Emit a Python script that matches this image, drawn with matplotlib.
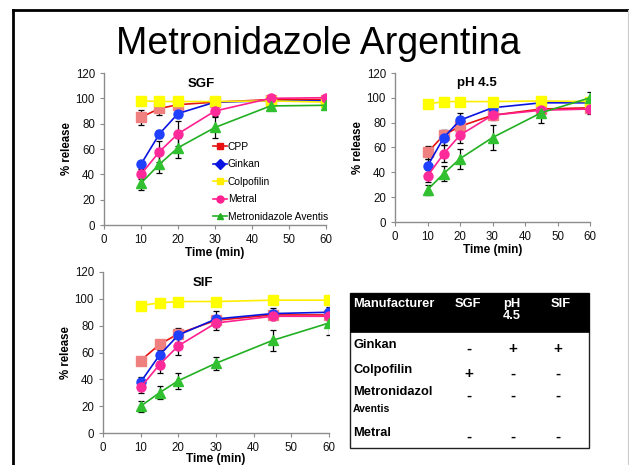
import numpy as np
import matplotlib
matplotlib.use("Agg")
import matplotlib.pyplot as plt
from matplotlib.lines import Line2D
from matplotlib.patches import Rectangle

plt.rcParams["font.family"] = ["Liberation Sans", "DejaVu Sans"]

times = [10, 15, 20, 30, 45, 60]
names = ["CPP", "Ginkan", "Colpofilin", "Metral", "Metronidazole Aventis"]
colors = ["#e81010", "#0a14e0", "#ffee00", "#ff1f8e", "#22b022"]
markers = ["s", "o", "s", "o", "^"]
face_colors = ["#f08080", "#2040ff", "#ffff00", "#ff2a9a", "#30c030"]

# % release per medium, series order as in names
sgf = [
    [85, 92, 95, 97, 99, 99],
    [48, 72, 88, 97, 98, 98],
    [98, 97.5, 97.5, 97.5, 98, 97],
    [40, 58, 72, 90, 100, 100.5],
    [33, 48, 61, 77, 94, 94.5],
]
sgf_err = [
    [6, 5, 2, 1, 2, 1],
    [2, 3, 3, 1, 3, 1],
    [1, 1, 1, 1, 1, 1],
    [4, 8, 10, 4, 3, 1],
    [5, 7, 8, 8, 2, 1],
]
ph45 = [
    [56, 70, 77, 86, 91, 92],
    [45, 68, 82, 92, 96, 96],
    [95, 97, 97, 97, 97.5, 97],
    [37, 55, 70, 86, 90, 91],
    [26, 39, 51, 68, 88, 100],
]
ph45_err = [
    [5, 4, 3, 2, 2, 2],
    [6, 6, 6, 3, 2, 2],
    [1, 1, 1, 1, 1, 1],
    [5, 7, 6, 4, 2, 4],
    [4, 6, 8, 10, 8, 5],
]
sif = [
    [54, 66, 74, 84, 88, 88],
    [38, 58, 73, 85, 89, 90],
    [95, 97, 98, 98, 99, 99],
    [34, 51, 65, 82, 87, 87],
    [20, 30, 39, 52, 69, 82],
]
sif_err = [
    [2, 3, 3, 2, 2, 2],
    [4, 4, 5, 6, 4, 4],
    [1, 1, 1, 1, 1, 1],
    [4, 6, 7, 5, 3, 3],
    [4, 5, 6, 5, 8, 9],
]

table_cols = ["Manufacturer", "SGF", "pH\n4.5", "SIF"]
table_rows = ["Ginkan", "Colpofilin", "Metronidazol", "Metral"]
table_marks = [
    ["-", "+", "+"],
    ["+", "-", "-"],
    ["-", "-", "-"],
    ["-", "-", "-"],
]

W, H = 629, 465
fig = plt.figure(figsize=(W / 100, H / 100), dpi=100)


def px(x0, y0, x1, y1):
    return [x0 / W, 1 - y1 / H, (x1 - x0) / W, (y1 - y0) / H]


def panel(rect, data, err, title, title_xy, legend=False, xpad=1):
    ax = fig.add_axes(rect)
    for i in range(len(names)):
        ax.errorbar(times, data[i], yerr=err[i], fmt="none", ecolor="black",
                    elinewidth=0.9, capsize=2.2, capthick=0.9, zorder=2)
    for i in range(len(names)):
        ax.plot(times, data[i], color=colors[i], lw=1.2, marker=markers[i],
                ms=6.5 if markers[i] != "^" else 7, mfc=face_colors[i],
                mec=face_colors[i], label=names[i], zorder=3)
    ax.set_xlim(0, 60)
    ax.set_ylim(0, 120)
    ax.set_xticks(range(0, 61, 10))
    ax.set_yticks(range(0, 121, 20))
    for s in ["top", "right"]:
        ax.spines[s].set_visible(False)
    for s in ["left", "bottom"]:
        ax.spines[s].set_color("#8c8c8c")
        ax.spines[s].set_linewidth(1.0)
    ax.tick_params(colors="#8c8c8c", labelcolor="#111111", labelsize=8.3,
                   length=3, width=0.8)
    ax.set_xlabel("Time (min)", fontsize=8.5, fontweight="bold", labelpad=xpad)
    ax.set_ylabel("% release", fontsize=8.3, fontweight="bold", labelpad=2)
    ax.text(title_xy[0], title_xy[1], title, transform=ax.transAxes,
            fontsize=9.5, fontweight="bold", ha="center", va="center")
    if legend:
        handles = [Line2D([], [], color=colors[i], marker=["s", "D", "s", "o", "^"][i],
                          ms=5, mfc=colors[i], mec=colors[i], lw=1.2)
                   for i in range(len(names))]
        ax.legend(handles, names, loc="upper left", bbox_to_anchor=(0.47, 0.58),
                  frameon=False, fontsize=7.4, handlelength=1.3,
                  handletextpad=0.1, labelspacing=0.72, borderpad=0)
    return ax


panel(px(104, 73, 326, 225), sgf, sgf_err, "SGF", (0.44, 0.93), legend=True)
panel(px(395, 73, 590, 222), ph45, ph45_err, "pH 4.5", (0.42, 0.93))
panel(px(103, 272, 329, 433), sif, sif_err, "SIF", (0.44, 0.93), xpad=-0.5)

fig.text(318 / W, 1 - 44 / H, "Metronidazole Argentina", fontsize=27,
         ha="center", va="center")

# summary table
tx0, tx1, ty0, ty1 = 350, 589, 293, 448
fig.patches.append(Rectangle((tx0 / W, 1 - ty1 / H), (tx1 - tx0) / W, (ty1 - ty0) / H,
                             transform=fig.transFigure, facecolor="white",
                             edgecolor="#222222", lw=1.0, zorder=0))
fig.patches.append(Rectangle((tx0 / W, 1 - 332 / H), (tx1 - tx0) / W, 39 / H,
                             transform=fig.transFigure, facecolor="black",
                             edgecolor="black", lw=0.5))
head_x = [353, 455, 503, 551]
for x, label in zip(head_x, table_cols):
    fig.text(x / W, 1 - 298 / H, label, color="white", fontsize=9.3,
             fontweight="bold", ha="left", va="top", linespacing=0.95)
row_y = [345, 370, 392, 433]
mark_x = [469, 513, 558]
for y, label, marks in zip(row_y, table_rows, table_marks):
    fig.text(353 / W, 1 - y / H, label, fontsize=9.3, fontweight="bold",
             ha="left", va="center")
    for x, m in zip(mark_x, marks):
        fig.text(x / W, 1 - (y + 4) / H, m, fontsize=11, fontweight="bold",
                 ha="center", va="center")
fig.text(353 / W, 1 - 409 / H, "Aventis", fontsize=7.5, fontweight="bold",
         ha="left", va="center")

# slide frame
fig.add_artist(Line2D([13 / W, 13 / W], [0, 1 - 10 / H], color="black", lw=2,
                      transform=fig.transFigure))
fig.add_artist(Line2D([13 / W, 1], [1 - 10 / H, 1 - 10 / H], color="black", lw=2,
                      transform=fig.transFigure))
fig.add_artist(Line2D([627.5 / W, 627.5 / W], [0, 1 - 10 / H], color="#cccccc", lw=0.8,
                      transform=fig.transFigure))

fig.savefig("out.png", dpi=100)
